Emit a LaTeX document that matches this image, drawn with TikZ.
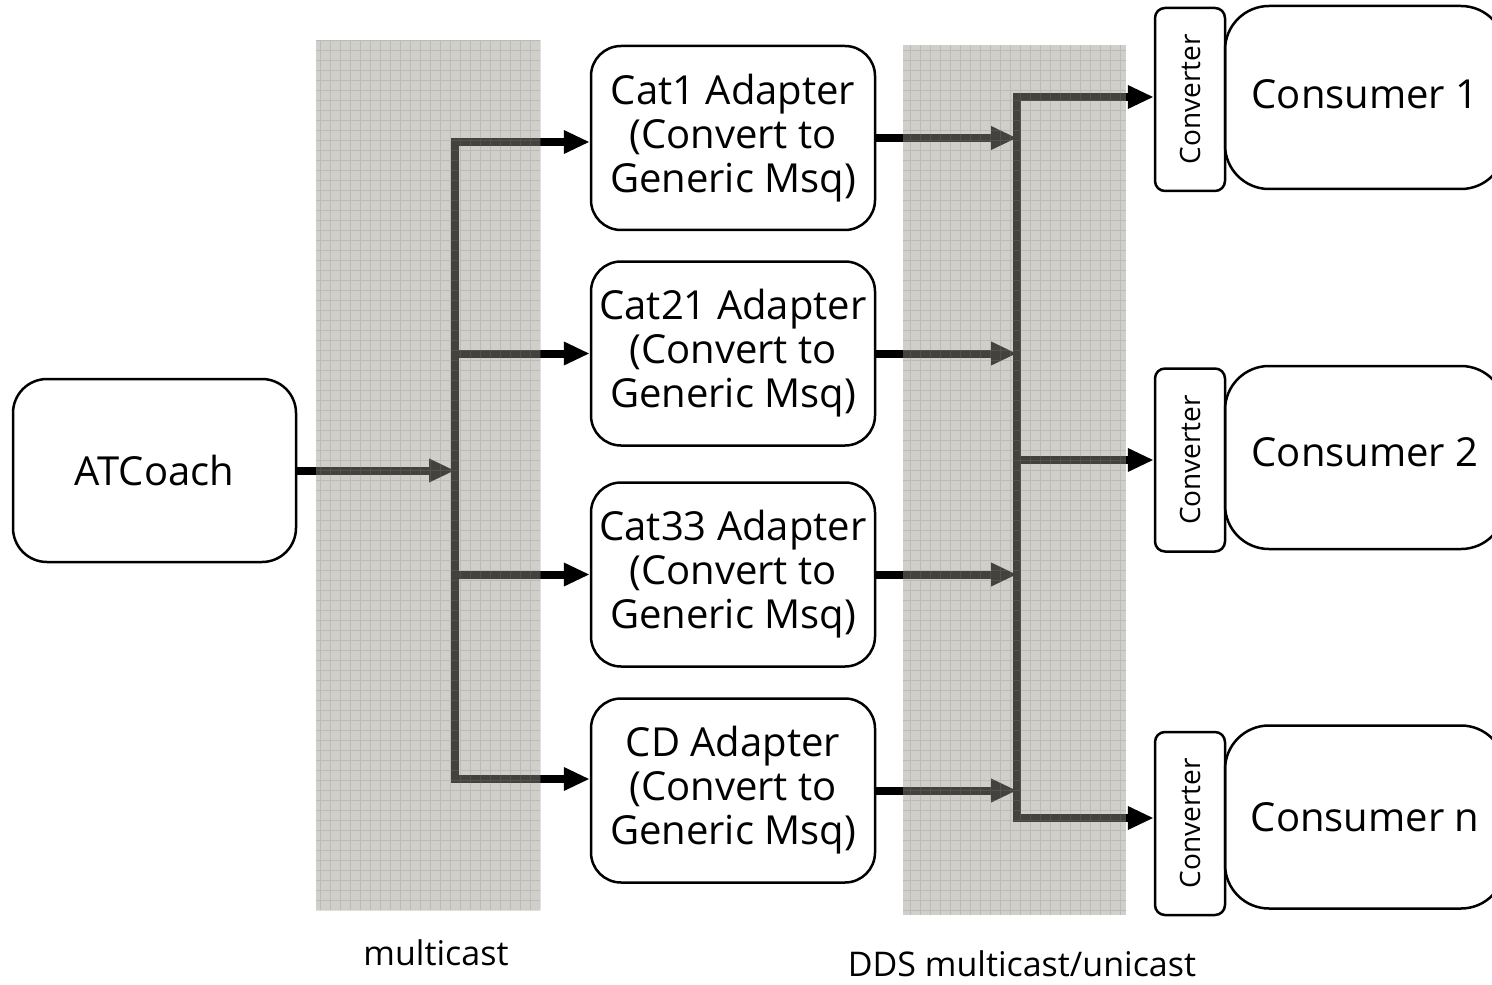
\documentclass[tikz,border=0pt]{standalone}
\usepackage{fontspec}
\setmainfont{Open Sans}
\usetikzlibrary{arrows.meta}
\definecolor{bandgray}{RGB}{150,148,138}
\begin{document}
\begin{tikzpicture}[x=0.5pt, y=-0.5pt,
        box/.style = {draw, line width=1.25pt, rounded corners=15pt, align=center,
            inner sep=0pt, font=\fontsize{20}{22}\selectfont},
        wire/.style = {line width=4pt},
        arr/.style = {wire, -{Triangle[length=13pt, width=11pt]}},
        band/.style = {fill=bandgray, fill opacity=0.45},
        mesh/.style = {step=5pt, line width=0.4pt, draw=black!50, draw opacity=0.25},
        lbl/.style = {font=\fontsize{17}{20}\selectfont}
    ]
    \useasboundingbox (0,0) rectangle (1492,984);
    \node[box, rounded corners=17pt, minimum width=141.5pt, minimum height=91.5pt] (atc) at (154.5,470.5) {ATCoach};
    \foreach \name/\txt/\y in {cat1/Cat1/138, cat21/Cat21/353.5, cat33/Cat33/574.5, cd/CD/790.5}
        \node[box, minimum width=142pt, minimum height=92pt] (\name) at (733,\y) {\txt\ Adapter\\(Convert to\\Generic Msq)};
    \foreach \i/\y/\up in {1/97.5/3pt, 2/457.5/5.5pt, n/817/-1pt}
        \node[box, rounded corners=22pt, minimum width=140pt, minimum height=91.5pt] (cons\i) at (1365,\y) {\raisebox{\up}{Consumer \i}};
    \foreach \i/\y in {1/99.5, 2/460, n/823.5}
        \node[box, rounded corners=5pt, minimum width=35pt, minimum height=91.5pt, font=\fontsize{14}{16}\selectfont] (conv\i) at (1190,\y) {\rotatebox{90}{Converter}};
    % first bus
    \coordinate (b1) at (455,470.5);
    \coordinate (b1top) at (455,142);
    \coordinate (b1bot) at (455,779);
    \draw[arr] (atc) -- (b1);
    \draw[arr] (b1) -- (b1top) -- (b1top -| cat1.west);
    \draw[arr] (b1) -- (b1bot) -- (b1bot -| cd.west);
    \draw[arr] (b1top |- cat21) -- (cat21);
    \draw[arr] (b1top |- cat33) -- (cat33);
    % second bus
    \coordinate (c1) at (1017,97);
    \coordinate (c2) at (1017,460);
    \coordinate (cn) at (1017,818);
    \foreach \name in {cat1, cat21, cat33, cd}
        \draw[arr] (\name) -- (\name -| c1);
    \draw[arr] (c2) -- (c1) -- (c1 -| conv1.west);
    \draw[arr] (c2) -- (cn) -- (cn -| convn.west);
    \draw[arr] (c2) -- (conv2);
    % bands
    \fill[band] (316,40) rectangle (540,910);
    \draw[mesh] (316,40) grid (540,910);
    \fill[band] (903,45) rectangle (1126,915);
    \draw[mesh] (903,45) grid (1126,915);
    \node[lbl] (multi) at (436,953) {multicast};
    \node[lbl] (dds) at (1022,964) {DDS multicast/unicast};
\end{tikzpicture}
\end{document}
